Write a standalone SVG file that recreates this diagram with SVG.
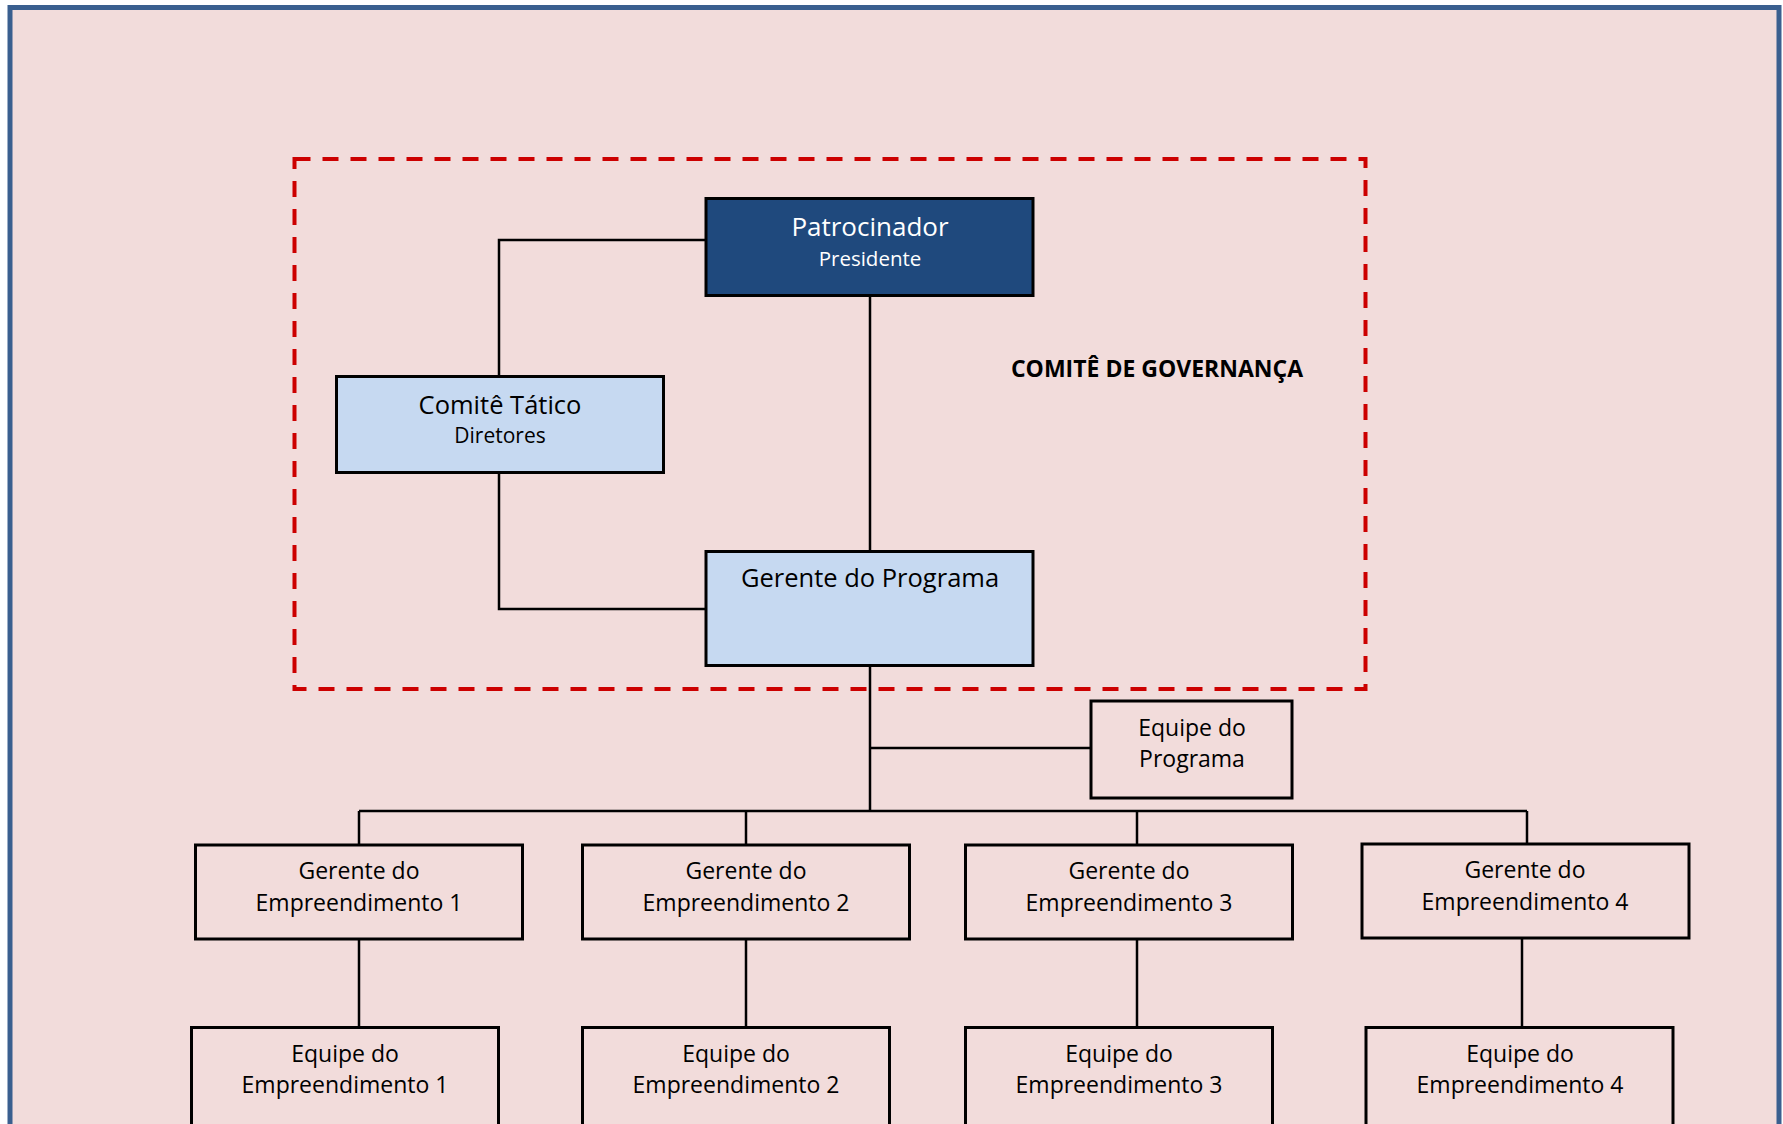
<svg xmlns="http://www.w3.org/2000/svg" width="1783" height="1124" viewBox="0 0 1783 1124">
<style>
.t{font-family:"Open Sans","Noto Sans","Liberation Sans",sans-serif;text-anchor:middle;fill:#000}
.s{font-size:23px}
.w{fill:#fff}
.box{stroke:#000;stroke-width:3}
.light{fill:#c6d9f1}
.plain{fill:#f2dcdb}
.con{fill:none;stroke:#000;stroke-width:2.5}
</style>
<rect x="0" y="0" width="1783" height="1124" fill="#ffffff"/>
<rect x="10" y="7.5" width="1769" height="1130" fill="#f2dcdb" stroke="#3a5f8f" stroke-width="5"/>
<rect x="294.5" y="159" width="1071" height="530" fill="none" stroke="#cc0000" stroke-width="4" stroke-dasharray="16 12"/>
<text class="t" x="1157" y="377" font-size="23" font-weight="bold">COMITÊ DE GOVERNANÇA</text>
<g id="connectors">
<polyline class="con" points="706,240 499,240 499,376"/>
<polyline class="con" points="499,473 499,609 706,609"/>
<line class="con" x1="870" y1="295" x2="870" y2="560"/>
<line class="con" x1="870" y1="666" x2="870" y2="811"/>
<line class="con" x1="870" y1="748" x2="1091" y2="748"/>
<line class="con" x1="359" y1="811" x2="1527" y2="811"/>
<line class="con" x1="359" y1="811" x2="359" y2="845"/>
<line class="con" x1="746" y1="811" x2="746" y2="845"/>
<line class="con" x1="1137" y1="811" x2="1137" y2="845"/>
<line class="con" x1="1527" y1="811" x2="1527" y2="844"/>
<line class="con" x1="359" y1="939" x2="359" y2="1027"/>
<line class="con" x1="746" y1="939" x2="746" y2="1027"/>
<line class="con" x1="1137" y1="939" x2="1137" y2="1027"/>
<line class="con" x1="1522" y1="938" x2="1522" y2="1027"/>
</g>
<g id="patrocinador">
<rect class="box" x="706" y="198.5" width="327" height="97" fill="#1f497d"/>
<text class="t w" x="870" y="236" font-size="26">Patrocinador</text>
<text class="t w" x="870" y="266" font-size="20.5">Presidente</text>
</g>
<g id="comite-tatico">
<rect class="box light" x="336.5" y="376.5" width="327" height="96"/>
<text class="t" x="500" y="414" font-size="25.5">Comitê Tático</text>
<text class="t" x="500" y="443" font-size="21">Diretores</text>
</g>
<g id="gerente-programa">
<rect class="box light" x="706" y="551.5" width="327" height="114"/>
<text class="t" x="870" y="587" font-size="25.5">Gerente do Programa</text>
</g>
<g id="equipe-programa">
<rect class="box plain" x="1091" y="701" width="201" height="97"/>
<text class="t s" x="1192" y="736">Equipe do</text>
<text class="t s" x="1192" y="767">Programa</text>
</g>
<g id="gerente-emp-1">
<rect class="box plain" x="195.5" y="845" width="327" height="94"/>
<text class="t s" x="359" y="879">Gerente do</text>
<text class="t s" x="359" y="911">Empreendimento 1</text>
</g>
<g id="gerente-emp-2">
<rect class="box plain" x="582.5" y="845" width="327" height="94"/>
<text class="t s" x="746" y="879">Gerente do</text>
<text class="t s" x="746" y="911">Empreendimento 2</text>
</g>
<g id="gerente-emp-3">
<rect class="box plain" x="965.5" y="845" width="327" height="94"/>
<text class="t s" x="1129" y="879">Gerente do</text>
<text class="t s" x="1129" y="911">Empreendimento 3</text>
</g>
<g id="gerente-emp-4">
<rect class="box plain" x="1362" y="844" width="327" height="94"/>
<text class="t s" x="1525" y="878">Gerente do</text>
<text class="t s" x="1525" y="910">Empreendimento 4</text>
</g>
<g id="equipe-emp-1">
<rect class="box plain" x="191.5" y="1027.5" width="307" height="120"/>
<text class="t s" x="345" y="1062">Equipe do</text>
<text class="t s" x="345" y="1093">Empreendimento 1</text>
</g>
<g id="equipe-emp-2">
<rect class="box plain" x="582.5" y="1027.5" width="307" height="120"/>
<text class="t s" x="736" y="1062">Equipe do</text>
<text class="t s" x="736" y="1093">Empreendimento 2</text>
</g>
<g id="equipe-emp-3">
<rect class="box plain" x="965.5" y="1027.5" width="307" height="120"/>
<text class="t s" x="1119" y="1062">Equipe do</text>
<text class="t s" x="1119" y="1093">Empreendimento 3</text>
</g>
<g id="equipe-emp-4">
<rect class="box plain" x="1366" y="1027.5" width="307" height="120"/>
<text class="t s" x="1520" y="1062">Equipe do</text>
<text class="t s" x="1520" y="1093">Empreendimento 4</text>
</g>
</svg>
